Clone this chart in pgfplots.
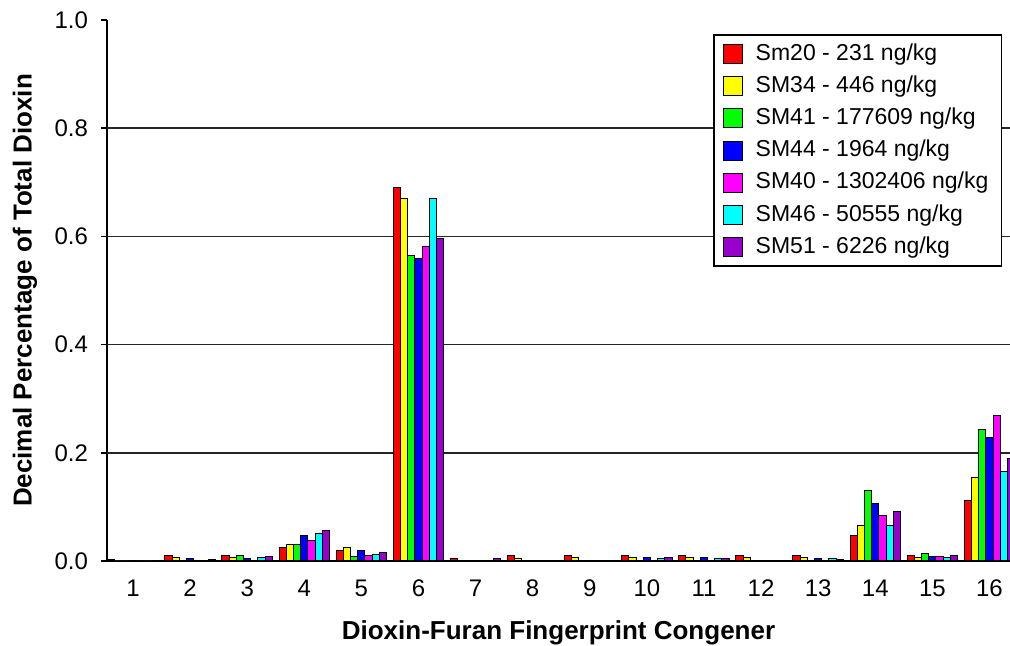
\documentclass[border=0pt]{standalone}
\usepackage{pgfplots}
\pgfplotsset{compat=1.18}
\usepackage{pgfplotstable}
\usepackage{fontspec}
\setmainfont{Liberation Sans}

\definecolor{cA}{HTML}{FF0000}
\definecolor{cB}{HTML}{FFFF00}
\definecolor{cC}{HTML}{00FF00}
\definecolor{cD}{HTML}{0000FF}
\definecolor{cE}{HTML}{FF00FF}
\definecolor{cF}{HTML}{00FFFF}
\definecolor{cG}{HTML}{9900CC}

% congener, then one column per sample
\pgfplotstableread{
x  a      b      c      d      e      f      g
1  0.002  0      0      0      0      0      0
2  0.011  0.007  0.001  0.005  0.001  0.001  0.003
3  0.011  0.007  0.011  0.005  0.001  0.007  0.0087
4  0.025  0.0296 0.0296 0.047  0.0375 0.051  0.0555
5  0.020  0.025  0.009  0.019  0.011  0.0125 0.0166
6  0.691  0.670  0.564  0.560  0.581  0.670  0.596
7  0.004  0.001  0.001  0.001  0.001  0.001  0.004
8  0.010  0.005  0.001  0.001  0.001  0.001  0.001
9  0.0105 0.0065 0.001  0.001  0.001  0.001  0.001
10 0.0105 0.007  0.001  0.007  0.001  0.004  0.007
11 0.0105 0.007  0.001  0.007  0.001  0.004  0.004
12 0.0105 0.007  0.001  0.001  0.001  0.001  0.001
13 0.0105 0.007  0.001  0.004  0.001  0.004  0.002
14 0.048  0.0665 0.131  0.107  0.084  0.065  0.092
15 0.0105 0.0068 0.0135 0.0092 0.009  0.0068 0.0105
16 0.112  0.155  0.243  0.229  0.269  0.166  0.190
}\data

\begin{document}
\begin{tikzpicture}
\begin{axis}[
  scale only axis,
  width=451.5pt, height=270.5pt,
  xmin=0.545, xmax=16.36,
  ymin=0, ymax=1,
  axis x line=bottom, axis y line=left,
  axis line style={-, line width=1pt},
  xtick={1,...,16},
  x tick style={draw=none},
  ytick={0,0.2,0.4,0.6,0.8,1.0},
  y tick style={line width=0.8pt, black},
  tick align=outside,
  major tick length=3pt,
  extra y ticks={0.2,0.4,0.6,0.8},
  extra y tick labels={},
  extra y tick style={grid=major, major grid style={line width=0.8pt, black!85}},
  /pgf/number format/assume math mode=true,
  yticklabel style={/pgf/number format/fixed, /pgf/number format/fixed zerofill,
    /pgf/number format/precision=1, xshift=-3pt},
  xticklabel style={yshift=-3pt},
  tick label style={font=\fontsize{12}{14}\selectfont},
  xlabel={Dioxin-Furan Fingerprint Congener},
  ylabel={Decimal Percentage of Total Dioxin},
  label style={font=\fontsize{13}{15}\selectfont\bfseries},
  xlabel style={at={(axis description cs:0.5,0)}, anchor=center, yshift=-36pt},
  ylabel style={at={(axis description cs:0,0.5)}, anchor=center, yshift=41pt},
  ybar, bar width=0.126,
  every axis plot/.append style={draw=black, line width=0.5pt},
  legend style={at={(0.671,0.974)}, anchor=north west, draw=black, line width=0.8pt,
    font=\fontsize{11.5}{13}\selectfont, row sep=0pt, inner xsep=4.5pt, inner ysep=1.5pt,
    cells={anchor=west},
    nodes={text height=9.1pt, text depth=3pt, inner ysep=2pt}},
  legend image code/.code={\draw[#1, draw=black, line width=0.5pt] (0pt,-4.75pt) rectangle (9.5pt,4.75pt);
    \path (14pt,0pt);},
]
\addplot[fill=cA, bar shift=-0.378] table[x=x, y=a] {\data};
\addplot[fill=cB, bar shift=-0.252] table[x=x, y=b] {\data};
\addplot[fill=cC, bar shift=-0.126] table[x=x, y=c] {\data};
\addplot[fill=cD, bar shift=0] table[x=x, y=d] {\data};
\addplot[fill=cE, bar shift=0.126] table[x=x, y=e] {\data};
\addplot[fill=cF, bar shift=0.252] table[x=x, y=f] {\data};
\addplot[fill=cG, bar shift=0.378] table[x=x, y=g] {\data};
\legend{Sm20 - 231 ng/kg, SM34 - 446 ng/kg, SM41 - 177609 ng/kg, SM44 - 1964 ng/kg, SM40 - 1302406 ng/kg, SM46 - 50555 ng/kg, SM51 - 6226 ng/kg}
\end{axis}
\pgfresetboundingbox
\useasboundingbox ([shift={(-53.5pt,-42.5pt)}]current axis.south west) rectangle ([shift={(0pt,10pt)}]current axis.north east);
\end{tikzpicture}
\end{document}
